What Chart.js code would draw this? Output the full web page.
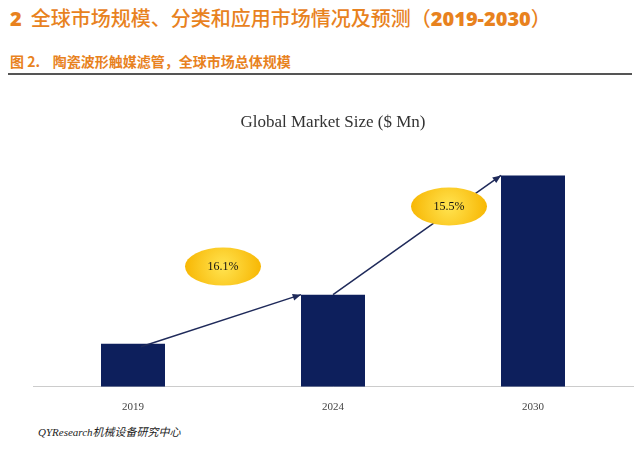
<!DOCTYPE html>
<html><head><meta charset="utf-8">
<script src="https://cdn.jsdelivr.net/npm/chart.js@4"></script>
<style>
body{margin:0;background:#fff;width:640px;height:452px;overflow:hidden;position:relative;font-family:"Noto Sans CJK SC",sans-serif}
#h1{position:absolute;left:10px;top:3px;color:#E8821E;font-size:20px;font-weight:500;white-space:nowrap}
#h1 b{font-family:"Open Sans",sans-serif;font-weight:800}
#h2{position:absolute;left:10px;top:51px;color:#E8821E;font-size:14px;font-weight:700;white-space:nowrap}
#rule{position:absolute;left:8px;top:73px;width:624px;height:2px;background:#555}
#foot{position:absolute;left:38px;top:423px;font-size:11px;font-style:italic;color:#222;font-family:"Liberation Serif","Noto Sans CJK SC",serif}
#wrap{position:absolute;left:0;top:100px;width:640px;height:320px}
</style></head><body>
<div id="h1"><b>2</b>&nbsp;&nbsp;全球市场规模、分类和应用市场情况及预测（<b>2019-2030</b>）</div>
<div id="h2">图 2.&nbsp;&nbsp;&nbsp;&nbsp;陶瓷波形触媒滤管，全球市场总体规模</div>
<div id="rule"></div>
<div id="wrap"><canvas id="c"></canvas></div>
<div id="foot">QYResearch机械设备研究中心</div>
<script>
const categories=["2019","2024","2030"];
const marketSize=[43,92,211];
const growthLabels=["16.1%","15.5%"];
const growthPos=[[0.45,120],[1.58,180]];
const deco={id:'deco',afterDatasetsDraw(ch){
 const {ctx,scales:{x,y}}=ch;const m=ch.getDatasetMeta(0).data;
 ctx.save();ctx.strokeStyle='#1F2A5A';ctx.fillStyle='#1F2A5A';ctx.lineWidth=1.5;
 for(let i=0;i<2;i++){
  const a=m[i],b=m[i+1];
  const x1=a.x+(i==0?8:0),y1=a.y+(i==0?3:0),x2=b.x-b.width/2,y2=b.y;
  ctx.beginPath();ctx.moveTo(x1,y1);ctx.lineTo(x2,y2);ctx.stroke();
  const ang=Math.atan2(y2-y1,x2-x1);
  ctx.beginPath();ctx.moveTo(x2,y2);ctx.lineTo(x2-9*Math.cos(ang-0.4),y2-9*Math.sin(ang-0.4));ctx.lineTo(x2-9*Math.cos(ang+0.4),y2-9*Math.sin(ang+0.4));ctx.fill();
 }
 growthLabels.forEach((t,i)=>{
  const cx=x.getPixelForValue(growthPos[i][0]),cy=y.getPixelForValue(growthPos[i][1]);
  const g=ctx.createRadialGradient(cx,cy,3,cx,cy,40);g.addColorStop(0,'#FFE04A');g.addColorStop(1,'#F7B500');
  ctx.fillStyle=g;ctx.beginPath();ctx.ellipse(cx,cy,38,19,0,0,Math.PI*2);ctx.fill();
  ctx.fillStyle='#111';ctx.font='12px "Liberation Serif"';ctx.textAlign='center';ctx.textBaseline='middle';ctx.fillText(t,cx,cy);
 });
 ctx.restore();}};
new Chart(document.getElementById('c'),{type:'bar',data:{labels:categories,datasets:[{data:marketSize,backgroundColor:'#0D1F5C',barPercentage:0.4,categoryPercentage:0.8}]},
options:{responsive:true,maintainAspectRatio:false,animation:false,layout:{padding:{left:33,right:7}},
plugins:{legend:{display:false},tooltip:{enabled:false},title:{display:true,text:'Global Market Size ($ Mn)',color:'#333',font:{family:'Liberation Serif',size:17,weight:'normal'},padding:{top:12,bottom:4}}},
scales:{x:{grid:{display:false},border:{color:'#ccc'},ticks:{color:'#444',font:{family:'Liberation Serif',size:11},padding:6}},
y:{display:false,min:0,max:250}}},plugins:[deco]});
</script></body></html>
